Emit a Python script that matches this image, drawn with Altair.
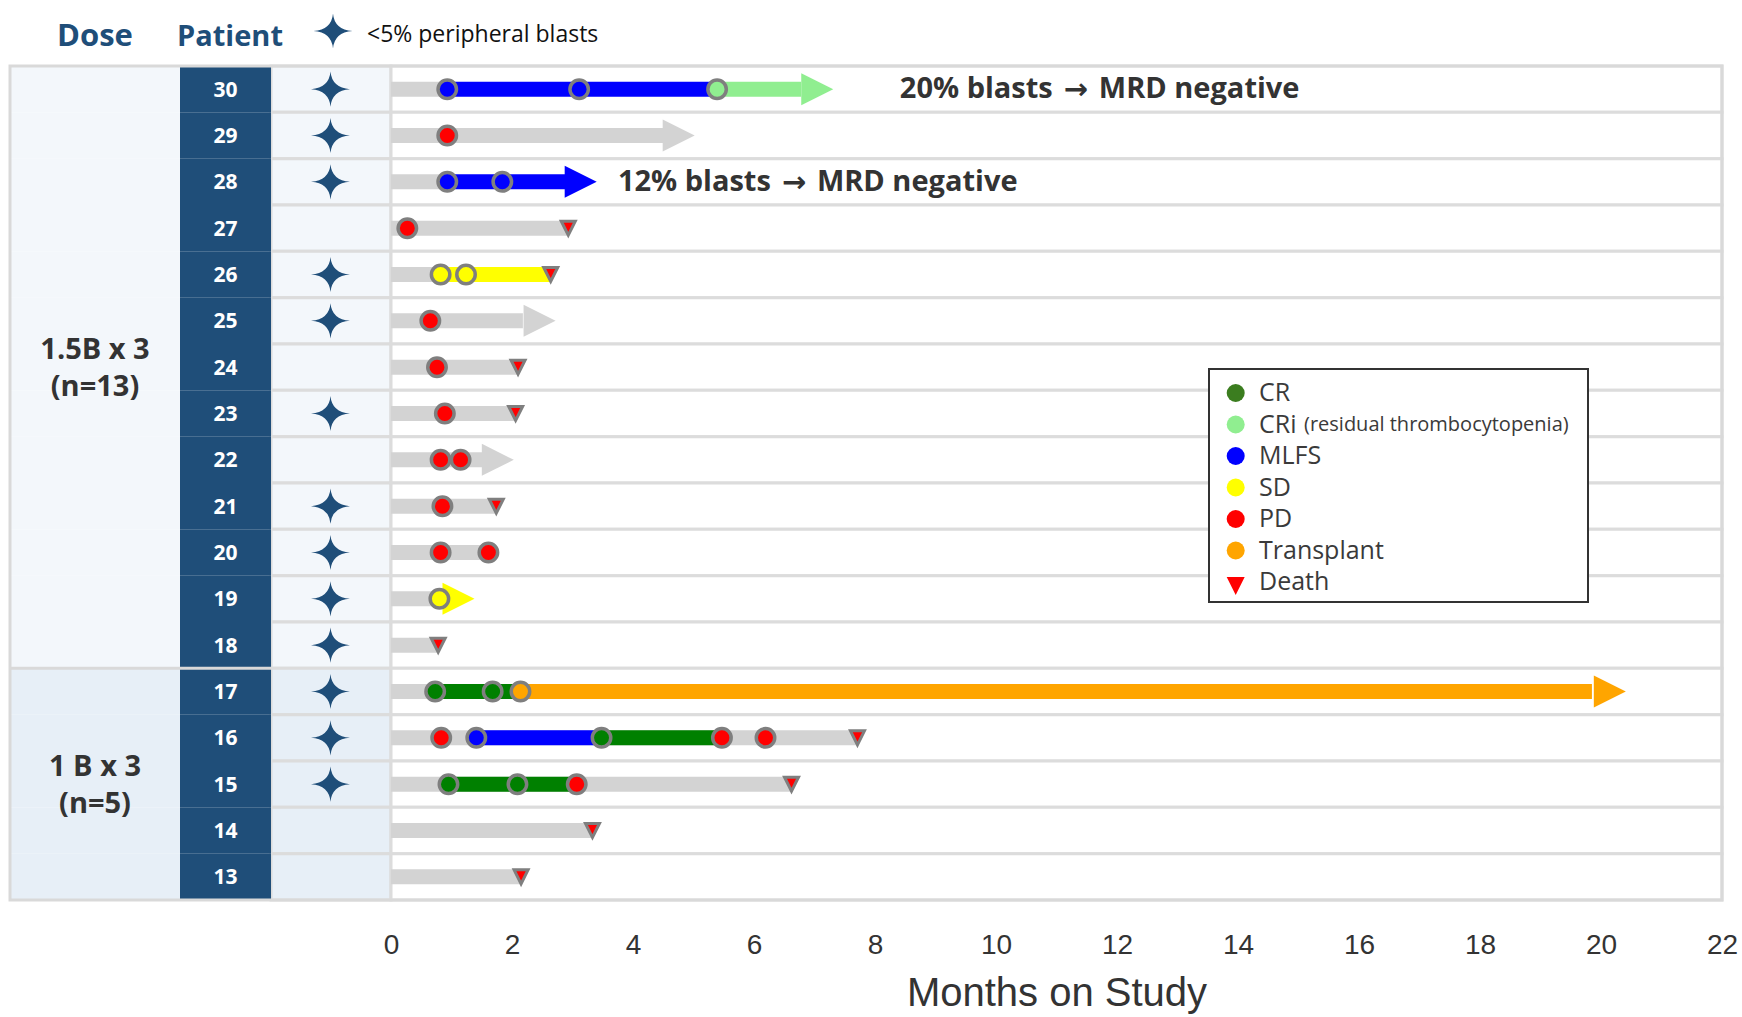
import altair as alt
import pandas as pd

# ---------------- data ----------------
patients = [30, 29, 28, 27, 26, 25, 24, 23, 22, 21, 20, 19, 18, 17, 16, 15, 14, 13]
groups = ["1.5B"] * 13 + ["1B"] * 5
star_patients = [30, 29, 28, 26, 25, 23, 21, 20, 19, 18, 17, 16, 15]
dose_labels = ["1.5B x 3\n(n=13)", "1 B x 3\n(n=5)"]
dose_label_rows = [24, 15]
group_top_rows = [17]

# grey baseline bar per patient (months)
gray_end = [0.93, 4.50, 0.93, 2.93, 0.82, 2.18, 2.10, 2.06, 1.52, 1.74, 1.61,
            0.80, 0.78, 0.73, 7.71, 6.62, 3.33, 2.15]

# coloured response segments
seg_patient = [30, 30, 28, 26, 17, 17, 16, 16, 15]
seg_start = [0.93, 5.39, 0.93, 0.82, 0.73, 2.14, 1.41, 3.48, 0.95]
seg_end = [5.39, 6.78, 2.90, 2.64, 2.14, 19.85, 3.48, 5.47, 3.07]
seg_status = ["MLFS", "CRi", "MLFS", "SD", "CR", "Transplant", "MLFS", "CR", "CR"]

# ongoing arrows (tip position)
arrow_patient = [30, 29, 28, 25, 22, 19, 17]
arrow_tip = [7.31, 5.02, 3.40, 2.72, 2.03, 1.38, 20.41]
arrow_status = ["CRi", "none", "MLFS", "none", "none", "SD", "Transplant"]

# assessments
ev_patient = [30, 30, 30, 29, 28, 28, 27, 26, 26, 25, 24, 23, 22, 22, 21, 20, 20, 19,
              17, 17, 17, 16, 16, 16, 16, 16, 15, 15, 15]
ev_month = [0.93, 3.11, 5.39, 0.93, 0.93, 1.84, 0.27, 0.82, 1.24, 0.65, 0.76, 0.89,
            0.82, 1.15, 0.85, 0.82, 1.61, 0.80, 0.73, 1.68, 2.14, 0.83, 1.41, 3.48,
            5.47, 6.19, 0.95, 2.09, 3.07]
ev_status = ["MLFS", "MLFS", "CRi", "PD", "MLFS", "MLFS", "PD", "SD", "SD", "PD", "PD",
             "PD", "PD", "PD", "PD", "PD", "PD", "SD", "CR", "CR", "Transplant", "PD",
             "MLFS", "CR", "PD", "PD", "CR", "CR", "PD"]

# deaths
death_patient = [27, 26, 24, 23, 21, 18, 16, 15, 14, 13]
death_month = [2.93, 2.64, 2.10, 2.06, 1.74, 0.78, 7.71, 6.62, 3.33, 2.15]

# annotations
ann_lead = ["20% blasts", "12% blasts"]
ann_arrow = ["\u2192", "\u2192"]
ann_tail = ["MRD negative", "MRD negative"]
ann_patient = [30, 28]
ann_month = [8.41, 3.75]

status_domain = ["none", "CR", "CRi", "MLFS", "SD", "PD", "Transplant"]
status_colors = ["#d3d3d3", "#008000", "#90ee90", "#0000ff", "#ffff00", "#ff0000", "#ffa500"]

legend_labels = ["CR", "CRi", "MLFS", "SD", "PD", "Transplant", "Death"]
legend_colors = ["#3b7d1f", "#90ee90", "#0000ff", "#ffff00", "#ff0000", "#ffa500", "#ff0000"]
legend_note = "(residual thrombocytopenia)"

x_ticks = list(range(0, 23, 2))

# ---------------- style ----------------
W, H = 1331, 834
NAVY = "#1f4e79"
GRID = "#dcdcdc"
group_bg = {"1.5B": "#f3f7fb", "1B": "#e7eff7"}
STAR = "M0,-0.9 Q0.07,-0.07 1,0 Q0.07,0.07 0,0.9 Q-0.07,0.07 -1,0 Q-0.07,-0.07 0,-0.9 Z"
ARROW = "M-2,-1 L0,0 L-2,1 Z"
TRI = "M-1,-1 L1,-1 L0,1 Z"
TXT = "Open Sans"

ysc = alt.Scale(domain=patients, paddingInner=0, paddingOuter=0)
xsc = alt.Scale(domain=[0, 22], nice=False, zero=False)
xax = alt.Axis(values=x_ticks, title="Months on Study", grid=False, domain=False, ticks=False,
               labelFlush=False, labelFont="Liberation Sans", labelFontSize=28,
               labelColor="#333333", labelPadding=31, titleFont="Liberation Sans",
               titleFontSize=40, titleFontWeight="normal", titleColor="#333333",
               titlePadding=14)


def Y(**kw):
    return alt.Y("patient:O", scale=ysc, axis=None, **kw)


def X(field):
    return alt.X(field, scale=xsc, axis=xax)


rows = pd.DataFrame({"patient": patients, "group": groups,
                     "bg": [group_bg[g] for g in groups]})
one = pd.DataFrame({"a": [0]})

# table columns (pixel offsets left of the plot area)
star_bg = alt.Chart(rows).mark_rect(stroke=GRID, strokeWidth=3).encode(
    x=alt.value(-120), x2=alt.value(0), y=Y(), fill=alt.Fill("bg:N", scale=None))
dose_bg = alt.Chart(rows).mark_rect().encode(
    x=alt.value(-381), x2=alt.value(-211), y=Y(), fill=alt.Fill("bg:N", scale=None))
pat_bg = alt.Chart(rows).mark_rect(color=NAVY).encode(
    x=alt.value(-211), x2=alt.value(-120), y=Y())
plot_bg = alt.Chart(rows).mark_rect(fill="white", stroke=GRID, strokeWidth=3).encode(
    x=alt.value(0), x2=alt.value(W), y=Y())
frame = alt.Chart(one).mark_rect(fillOpacity=0, stroke="#d9d9d9", strokeWidth=3).encode(
    x=alt.value(-381), x2=alt.value(W), y=alt.value(0), y2=alt.value(H))
sep = alt.Chart(pd.DataFrame({"patient": group_top_rows})).mark_rule(
    color="#d9d9d9", strokeWidth=3).encode(
    x=alt.value(-381), x2=alt.value(-120), y=Y(bandPosition=0))
pat_txt = alt.Chart(rows).mark_text(font=TXT, fontWeight="bold", fontSize=21, dy=1.5,
                                    color="white").encode(
    x=alt.value(-165.5), y=Y(), text="patient:N")
stars = alt.Chart(pd.DataFrame({"patient": star_patients})).mark_point(
    shape=STAR, filled=True, size=1521, color=NAVY, opacity=1).encode(
    x=alt.value(-60.5), y=Y())
dose_txt = alt.Chart(pd.DataFrame({"patient": dose_label_rows, "lab": dose_labels})).mark_text(
    font=TXT, fontWeight="bold", fontSize=29, lineHeight=37, lineBreak="\n", dy=-17,
    color="#333333").encode(x=alt.value(-296), y=Y(), text="lab:N")

# header
hdr_dose = alt.Chart(one).mark_text(text="Dose", font=TXT, fontWeight="bold", fontSize=31,
                                    color=NAVY).encode(x=alt.value(-296), y=alt.value(-29))
hdr_pat = alt.Chart(one).mark_text(text="Patient", font=TXT, fontWeight="bold", fontSize=29,
                                   color=NAVY).encode(x=alt.value(-161), y=alt.value(-29))
hdr_star = alt.Chart(one).mark_point(shape=STAR, filled=True, size=1521, color=NAVY,
                                     opacity=1).encode(x=alt.value(-58), y=alt.value(-35))
hdr_note = alt.Chart(one).mark_text(text="<5% peripheral blasts", font=TXT, fontSize=23,
                                    align="left", color="#111111").encode(
    x=alt.value(-24), y=alt.value(-31))

# timeline
color = alt.Color("status:N", scale=alt.Scale(domain=status_domain, range=status_colors),
                  legend=None)
gray_df = pd.DataFrame({"patient": patients, "start": [0.0] * len(patients),
                        "end": gray_end, "status": ["none"] * len(patients)})
gray_bars = alt.Chart(gray_df).mark_bar(size=15, opacity=1).encode(
    x=X("start:Q"), x2="end:Q", y=Y(), color=color)
seg_df = pd.DataFrame({"patient": seg_patient, "start": seg_start, "end": seg_end,
                       "status": seg_status})
seg_bars = alt.Chart(seg_df).mark_bar(size=15, opacity=1).encode(
    x=X("start:Q"), x2="end:Q", y=Y(), color=color)
arr_df = pd.DataFrame({"patient": arrow_patient, "tip": arrow_tip, "status": arrow_status})
arrows = alt.Chart(arr_df).mark_point(shape=ARROW, filled=True, size=1024, opacity=1).encode(
    x=X("tip:Q"), y=Y(), color=color)
ev_df = pd.DataFrame({"patient": ev_patient, "month": ev_month, "status": ev_status})
events = alt.Chart(ev_df).mark_point(shape="circle", filled=True, size=340, opacity=1,
                                     stroke="#7f7f7f", strokeWidth=3.5).encode(
    x=X("month:Q"), y=Y(), color=color)
d_df = pd.DataFrame({"patient": death_patient, "month": death_month})
deaths = alt.Chart(d_df).mark_point(shape=TRI, filled=True, size=196, opacity=1,
                                    fill="#ff0000", stroke="#7f7f7f", strokeWidth=3).encode(
    x=X("month:Q"), y=Y())
a_df = pd.DataFrame({"patient": ann_patient, "month": ann_month, "lead": ann_lead,
                     "arr": ann_arrow, "tail": ann_tail})
ann_base = alt.Chart(a_df)
anns1 = ann_base.mark_text(font=TXT, fontWeight="bold", fontSize=29, align="left",
                           color="#333333").encode(x=X("month:Q"), y=Y(), text="lead:N")
anns2 = ann_base.mark_text(font="DejaVu Sans", fontWeight="bold", fontSize=29, align="left",
                           dx=164, dy=1, color="#333333").encode(
    x=X("month:Q"), y=Y(), text="arr:N")
anns3 = ann_base.mark_text(font=TXT, fontWeight="bold", fontSize=29, align="left",
                           dx=199, color="#333333").encode(x=X("month:Q"), y=Y(), text="tail:N")

# legend (drawn inside the plot area)
L_TOP, L_STEP = 327, 31.5
leg_df = pd.DataFrame({"lab": legend_labels, "col": legend_colors,
                       "ly": [L_TOP + i * L_STEP for i in range(len(legend_labels))]})
leg_box = alt.Chart(one).mark_rect(fill="white", stroke="#333333", strokeWidth=2).encode(
    x=alt.value(818), x2=alt.value(1197), y=alt.value(303), y2=alt.value(536))
leg_dots = alt.Chart(leg_df[leg_df.lab != "Death"]).mark_point(
    shape="circle", filled=True, size=324, opacity=1).encode(
    x=alt.value(844.7), y=alt.Y("ly:Q", scale=None, axis=None),
    fill=alt.Fill("col:N", scale=None))
leg_tri = alt.Chart(leg_df[leg_df.lab == "Death"]).mark_point(
    shape=TRI, filled=True, size=324, opacity=1).encode(
    x=alt.value(844.7), y=alt.Y("ly:Q", scale=None, axis=None),
    fill=alt.Fill("col:N", scale=None), yOffset=alt.value(4))
leg_txt = alt.Chart(leg_df).mark_text(font=TXT, fontSize=25, align="left",
                                      color="#3a3a3a").encode(
    x=alt.value(868), y=alt.Y("ly:Q", scale=None, axis=None), text="lab:N")
note_df = pd.DataFrame({"lab": [legend_note], "ly": [L_TOP + L_STEP]})
leg_note = alt.Chart(note_df).mark_text(font=TXT, fontSize=20, align="left",
                                        color="#3a3a3a").encode(
    x=alt.value(913), y=alt.Y("ly:Q", scale=None, axis=None), text="lab:N")

chart = alt.layer(
    star_bg, dose_bg, pat_bg, plot_bg, frame, sep, pat_txt, stars, dose_txt,
    hdr_dose, hdr_pat, hdr_star, hdr_note,
    gray_bars, seg_bars, arrows, events, deaths, anns1, anns2, anns3,
    leg_box, leg_dots, leg_tri, leg_txt, leg_note,
).properties(
    width=W, height=H,
    autosize=alt.AutoSizeParams(type="none"),
    padding={"left": 391, "top": 66, "right": 20, "bottom": 117},
    background="white",
).configure_view(stroke=None)

chart.save("out.html", embed_options={"renderer": "svg", "actions": False})
